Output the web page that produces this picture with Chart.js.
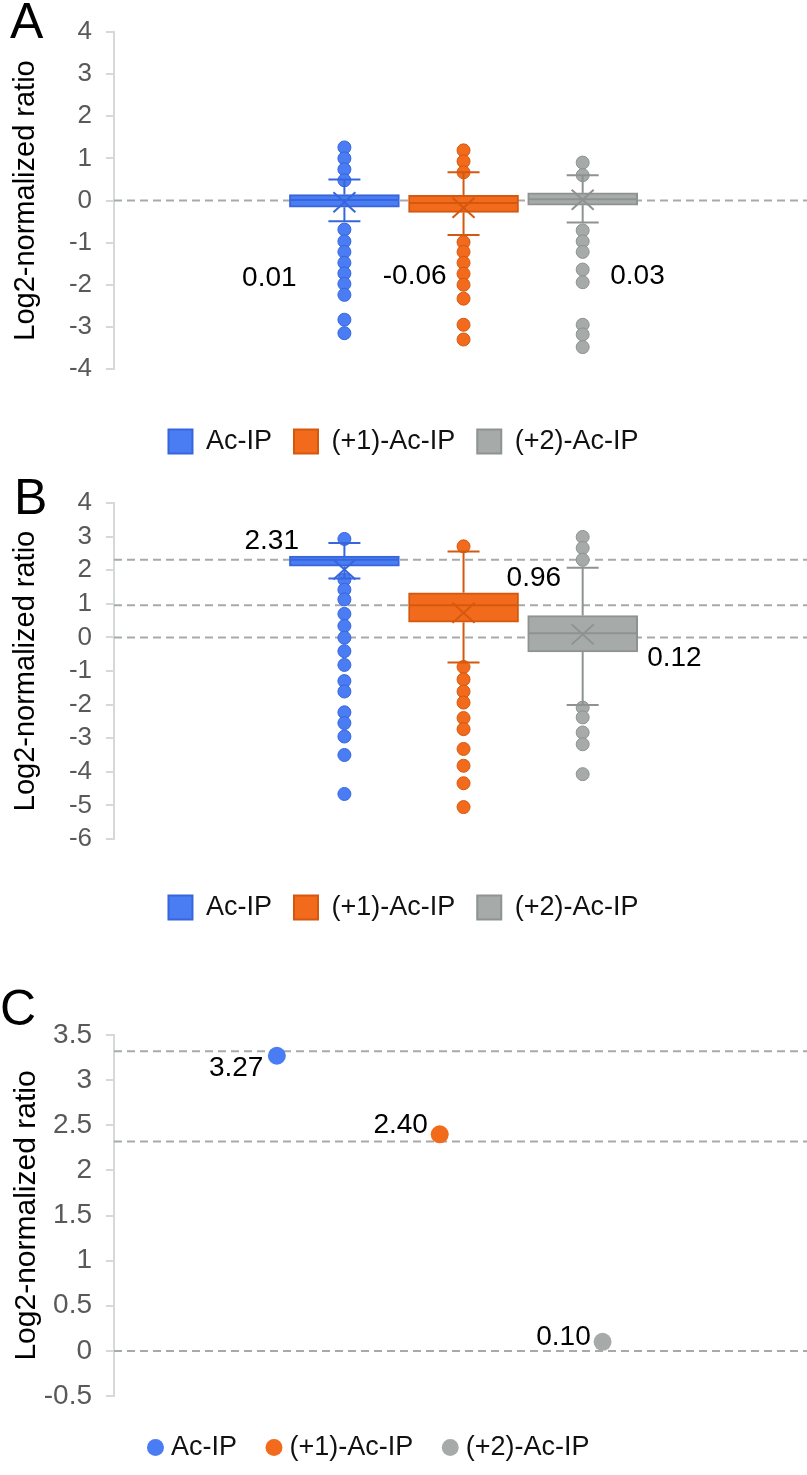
<!DOCTYPE html>
<html>
<head>
<meta charset="utf-8">
<title>Log2-normalized ratio</title>
<script src="https://cdn.jsdelivr.net/npm/chart.js@4.4.1/dist/chart.umd.min.js"></script>
<style>
  html, body { margin: 0; padding: 0; background: #fff; }
  canvas { display: block; }
</style>
</head>
<body>
<canvas id="chartA" width="807" height="470"></canvas>
<canvas id="chartB" width="807" height="465"></canvas>
<canvas id="chartC" width="807" height="540"></canvas>
<script>
// categories
const groups = ['Ac-IP', '(+1)-Ac-IP', '(+2)-Ac-IP'];
const groupPos = [1, 2, 3];

// A - box plot stats
const aMedian = [0.01, -0.06, 0.03];
const aMean = [-0.04, -0.17, 0.02];
const aQ1 = [-0.16, -0.28, -0.11];
const aQ3 = [0.14, 0.12, 0.18];
const aLow = [-0.49, -0.82, -0.52];
const aHigh = [0.50, 0.67, 0.60];
const aOutBlue = [1.26, 1.00, 0.74, 0.48, -0.69, -0.97, -1.22, -1.48, -1.73, -1.98, -2.24, -2.83, -3.15];
const aOutOrange = [1.19, 0.93, 0.67, -0.99, -1.22, -1.48, -1.74, -2.00, -2.33, -2.95, -3.30];
const aOutGray = [0.90, 0.60, -0.71, -0.97, -1.22, -1.64, -1.94, -2.95, -3.18, -3.48];
const aRefLines = [0];
const aTicks = [4, 3, 2, 1, 0, -1, -2, -3, -4];

// B - box plot stats
const bMedian = [2.31, 0.96, 0.12];
const bMean = [2.02, 0.73, 0.09];
const bQ1 = [2.12, 0.45, -0.43];
const bQ3 = [2.42, 1.33, 0.65];
const bLow = [1.75, -0.75, -2.01];
const bHigh = [2.81, 2.56, 2.07];
const bOutBlue = [2.93, 1.72, 1.42, 1.13, 0.70, 0.34, -0.01, -0.41, -0.82, -1.30, -1.61, -2.23, -2.55, -2.95, -3.50, -4.66];
const bOutOrange = [2.71, -0.88, -1.25, -1.61, -1.94, -2.40, -2.73, -3.32, -3.82, -4.34, -5.05];
const bOutGray = [2.99, 2.66, 2.31, -2.09, -2.38, -2.83, -3.18, -4.07];
const bRefLines = [2.31, 0.96, 0];
const bTicks = [4, 3, 2, 1, 0, -1, -2, -3, -4, -5, -6];

// C - single values
const cValues = [3.27, 2.40, 0.10];
const cRefLines = [3.32, 2.32, 0];
const cTicks = [3.5, 3, 2.5, 2, 1.5, 1, 0.5, 0, -0.5];

// colours
const fills = ['#4a7cf4', '#f26a1b', '#a6abaa'];
const edges = ['#3766dc', '#d5580f', '#8d9391'];
const FONT = '"Liberation Sans", Arial, Helvetica, sans-serif';

Chart.defaults.font.family = FONT;
Chart.defaults.animation = false;

// where the value labels sit (axis units)
const aLabelAt = { x: [0.37, 1.59, 3.46], y: [-1.85, -1.81, -1.81] };
const bLabelAt = { x: [0.39, 2.59, 3.77], y: [2.85, 1.75, -0.62] };
const cLabelAt = { x: [0.75, 1.76, 2.76], y: [3.13, 2.50, 0.155] };

function makeDecor(cfg) {
    return {
        id: 'decor',
        afterLayout(chart) {
            if (cfg.legendShift) {
                chart.legend.left += cfg.legendShift;
                chart.legend.right += cfg.legendShift;
            }
        },
        beforeDatasetsDraw(chart) {
            const { ctx, chartArea, scales: { y } } = chart;
            ctx.save();
            ctx.strokeStyle = '#a8aaaa';
            ctx.lineWidth = 2;
            ctx.setLineDash([8, 5]);
            cfg.refLines.forEach(v => {
                const py = y.getPixelForValue(v);
                ctx.beginPath();
                ctx.moveTo(chartArea.left, py);
                ctx.lineTo(chart.width, py);
                ctx.stroke();
            });
            ctx.restore();
        },
        afterDatasetsDraw(chart) {
            const { ctx, scales: { x, y } } = chart;
            const line = (x1, y1, x2, y2) => {
                ctx.beginPath();
                ctx.moveTo(x1, y1);
                ctx.lineTo(x2, y2);
                ctx.stroke();
            };
            ctx.save();
            if (cfg.box) {
                const b = cfg.box;
                groupPos.forEach((pos, i) => {
                    const cx = x.getPixelForValue(pos);
                    const half = 54;
                    const cap = 16;
                    ctx.strokeStyle = edges[i];
                    ctx.lineWidth = 2;
                    const yq1 = y.getPixelForValue(b.q1[i]);
                    const yq3 = y.getPixelForValue(b.q3[i]);
                    const ylo = y.getPixelForValue(b.low[i]);
                    const yhi = y.getPixelForValue(b.high[i]);
                    line(cx, yq3, cx, yhi);
                    line(cx, yq1, cx, ylo);
                    line(cx - cap, yhi, cx + cap, yhi);
                    line(cx - cap, ylo, cx + cap, ylo);
                    // median
                    const ym = y.getPixelForValue(b.median[i]);
                    line(cx - half, ym, cx + half, ym);
                    // mean
                    const yx = y.getPixelForValue(b.mean[i]);
                    line(cx - 11, yx - 10, cx + 11, yx + 10);
                    line(cx - 11, yx + 10, cx + 11, yx - 10);
                });
            }
            // value labels
            ctx.fillStyle = '#000';
            ctx.font = '28px ' + FONT;
            ctx.textAlign = 'center';
            ctx.textBaseline = 'middle';
            cfg.labels.forEach((t, i) => {
                ctx.fillText(t, x.getPixelForValue(cfg.labelAt.x[i]), y.getPixelForValue(cfg.labelAt.y[i]));
            });
            ctx.restore();
        },
        afterDraw(chart) {
            const ctx = chart.ctx;
            ctx.save();
            ctx.fillStyle = '#000';
            ctx.font = '50px ' + FONT;
            ctx.textAlign = 'left';
            ctx.textBaseline = 'alphabetic';
            ctx.fillText(cfg.letter.text, cfg.letter.x, cfg.letter.y);
            ctx.restore();
        }
    };
}

function yScale(ticks, fontSize, titleSize) {
    return {
        min: Math.min(...ticks),
        max: Math.max(...ticks),
        afterBuildTicks: s => { s.ticks = ticks.map(v => ({ value: v })); },
        afterFit: s => { s.width = 114; },
        ticks: {
            color: '#595959',
            font: { size: fontSize },
            padding: 14,
            autoSkip: false,
            callback: v => String(v)
        },
        grid: { drawOnChartArea: false, drawTicks: true, tickLength: 8, color: '#d6d9d9', lineWidth: 2 },
        border: { display: true, color: '#d6d9d9', width: 2 },
        title: {
            display: true,
            text: 'Log2-normalized ratio',
            color: '#000',
            font: { size: titleSize },
            padding: { top: 9, bottom: 0 }
        }
    };
}

function xScale(min, max, gap) {
    return {
        type: 'linear',
        min: min,
        max: max,
        offset: false,
        afterFit: s => { s.height = gap; },
        ticks: { display: false },
        grid: { display: false },
        border: { display: false }
    };
}

function boxChart(id, s) {
    const bars = groups.map((name, i) => ({
        type: 'bar',
        label: name,
        data: [{ x: groupPos[i], y: [s.q1[i], s.q3[i]] }],
        backgroundColor: fills[i],
        borderColor: edges[i],
        borderWidth: 2,
        borderSkipped: false,
        barThickness: 110,
        grouped: false,
        order: 2
    }));
    const dots = groups.map((name, i) => ({
        type: 'scatter',
        label: name + ' outliers',
        data: s.outliers[i].map(v => ({ x: groupPos[i], y: v })),
        backgroundColor: fills[i],
        borderColor: edges[i],
        borderWidth: 1,
        pointRadius: 6.5,
        order: 1
    }));

    return new Chart(document.getElementById(id), {
        type: 'bar',
        data: { datasets: bars.concat(dots) },
        options: {
            responsive: false,
            events: [],
            layout: { padding: { top: s.top, left: 0, right: 0, bottom: s.bottom } },
            scales: {
                x: xScale(-0.934, 4.82, s.gap),
                y: yScale(s.ticks, 26, 29)
            },
            plugins: {
                tooltip: { enabled: false },
                legend: {
                    position: 'bottom',
                    labels: {
                        filter: item => item.datasetIndex < 3,
                        color: '#111',
                        font: { size: 27 },
                        boxWidth: 24,
                        boxHeight: 24,
                        padding: 22
                    }
                }
            }
        },
        plugins: [makeDecor({
            refLines: s.refLines,
            box: s,
            labels: s.median.map(v => v.toFixed(2)),
            labelAt: s.labelAt,
            letter: s.letter
        })]
    });
}

boxChart('chartA', {
    q1: aQ1, q3: aQ3, median: aMedian, mean: aMean, low: aLow, high: aHigh,
    outliers: [aOutBlue, aOutOrange, aOutGray],
    refLines: aRefLines, ticks: aTicks, labelAt: aLabelAt,
    top: 32, bottom: 5, gap: 37,
    letter: { text: 'A', x: 10, y: 38 }
});

boxChart('chartB', {
    q1: bQ1, q3: bQ3, median: bMedian, mean: bMean, low: bLow, high: bHigh,
    outliers: [bOutBlue, bOutOrange, bOutGray],
    refLines: bRefLines, ticks: bTicks, labelAt: bLabelAt,
    top: 33, bottom: 4, gap: 33,
    letter: { text: 'B', x: 14, y: 44 }
});

// C - scatter of single values
new Chart(document.getElementById('chartC'), {
    type: 'scatter',
    data: {
        datasets: groups.map((name, i) => ({
            label: name,
            data: [{ x: groupPos[i], y: cValues[i] }],
            backgroundColor: fills[i],
            borderColor: fills[i],
            borderWidth: 0,
            pointRadius: 9
        }))
    },
    options: {
        responsive: false,
        events: [],
        layout: { padding: { top: 100, left: 0, right: 0, bottom: 4 } },
        scales: {
            x: xScale(0, 4.2, 3),
            y: yScale(cTicks, 28, 30)
        },
        plugins: {
            tooltip: { enabled: false },
            legend: {
                position: 'bottom',
                labels: {
                    usePointStyle: true,
                    pointStyle: 'circle',
                    color: '#111',
                    font: { size: 27 },
                    boxWidth: 4,
                    boxHeight: 12,
                    padding: 35
                }
            }
        }
    },
    plugins: [makeDecor({
        refLines: cRefLines,
        labels: cValues.map(v => v.toFixed(2)),
        labelAt: cLabelAt,
        legendShift: -32,
        letter: { text: 'C', x: 0, y: 90 }
    })]
});
</script>
</body>
</html>
